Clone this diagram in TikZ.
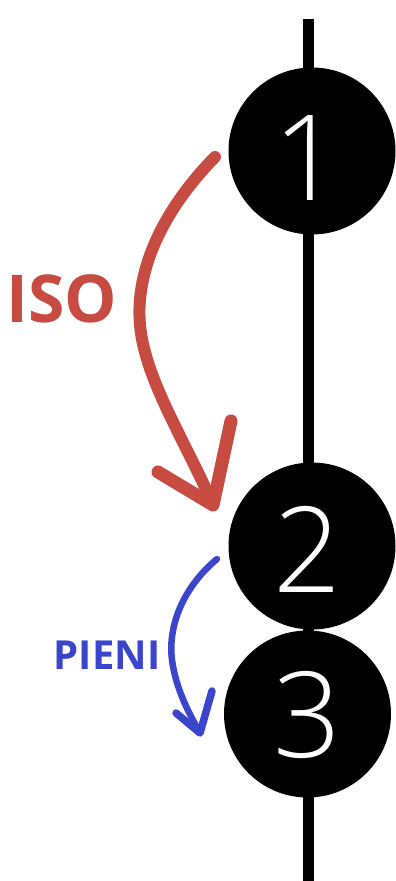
\documentclass[tikz,border=0pt]{standalone}
\usepackage{fontspec}
\setmainfont{Open Sans}
\newfontfamily\digitfont{Open Sans Light}
\definecolor{isored}{HTML}{C84B42}
\definecolor{pieniblue}{HTML}{3B45CC}
\begin{document}
\begin{tikzpicture}[x=1pt,y=-1pt,
  stage/.style={circle,fill=black,minimum size=167pt,inner sep=0pt},
  digit/.style={text=white,anchor=base,inner sep=0pt,font=\digitfont\fontsize{119}{119}\selectfont},
  redstroke/.style={draw=isored,line width=12pt,line cap=round,line join=round},
  bluestroke/.style={draw=pieniblue,line width=6.5pt,line cap=round,line join=round},
  lbl/.style={anchor=base,inner sep=0pt,font=\bfseries}]
\useasboundingbox (0,0) rectangle (396,881);
\coordinate (top) at (308,19);
\coordinate (bot) at (308,881);
\draw[line width=11pt] (top) -- (bot);
\node[stage] (c1) at (312,151) {};
\node[stage] (c2) at (312,546) {};
\node[stage] (c3) at (307.5,714) {};
\node[digit] (d1) at (307,200) {1};
\node[digit] (d2) at (307,592) {2};
\node[digit] (d3) at (307,757) {3};
% red arrow
\coordinate (rs) at (215,157);
\coordinate (rt) at (213,505);
\coordinate (rl) at (158,472);
\coordinate (rr) at (231,421);
\draw[redstroke] (rs) .. controls (163,210) and (135,270) .. (140,325) .. controls (145,380) and (185,440) .. (rt);
\draw[redstroke,line width=13pt] (rl) -- (rt) -- (rr);
% blue arrow
\coordinate (bs) at (217,559);
\coordinate (bt) at (200,733);
\coordinate (bl) at (176,713);
\coordinate (br) at (212,691);
\draw[bluestroke] (bs) .. controls (180,590) and (168,630) .. (172,660) .. controls (176,690) and (190,715) .. (bt);
\draw[bluestroke,line width=7.5pt] (bl) -- (bt) -- (br);
\node[lbl,text=isored,font=\bfseries\fontsize{66}{66}\selectfont] (iso) at (62,322) {ISO};
\node[lbl,text=pieniblue,font=\bfseries\fontsize{40}{40}\selectfont] (pieni) at (107,669) {PIENI};
\end{tikzpicture}
\end{document}
